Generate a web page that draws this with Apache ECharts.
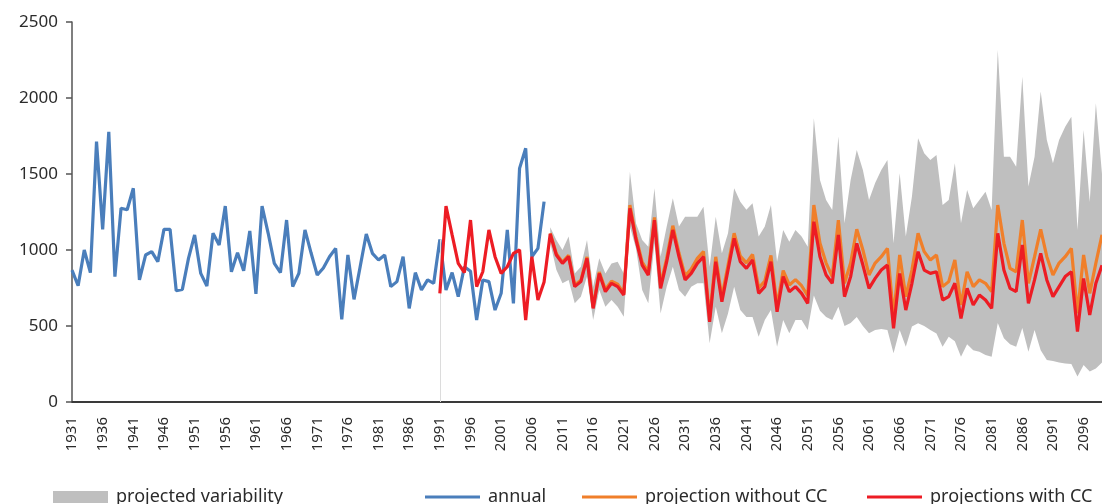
<!DOCTYPE html>
<html>
<head>
<meta charset="utf-8">
<script src="https://cdn.jsdelivr.net/npm/echarts@6/dist/echarts.min.js"></script>
<style>html,body{margin:0;padding:0;background:#fff}#c{width:1102px;height:504px}</style>
</head>
<body>
<div id="c"></div>
<script>
const firstYear = 1931, lastYear = 2099;
const annualStart = 1931, withCCStart = 1991, projStart = 2009;
const yTicks = [0, 500, 1000, 1500, 2000, 2500];

const annual = [
 868, 765, 1000, 851, 1713, 1136, 1778, 825, 1275, 1265,
 1406, 803, 967, 989, 923, 1136, 1136, 732, 741, 945,
 1099, 846, 763, 1110, 1033, 1289, 857, 982, 864, 1125,
 711, 1289, 1110, 912, 851, 1197, 760, 846, 1132, 980,
 835, 882, 956, 1011, 544, 967, 675, 890, 1105, 978,
 934, 967, 759, 792, 956, 616, 851, 737, 803, 781,
 1070, 737, 851, 693, 890, 860, 539, 803, 792, 605,
 715, 1132, 649, 1537, 1669, 956, 1011, 1318
];
const withCC = [
 715, 1289, 1099, 912, 851, 1197, 759, 857, 1132, 956,
 846, 890, 978, 1000, 539, 956, 671, 790, 1105, 967,
 912, 956, 759, 792, 945, 616, 846, 726, 781, 759,
 704, 1274, 1066, 901, 835, 1197, 748, 923, 1132, 956,
 803, 846, 912, 956, 528, 923, 660, 868, 1077, 923,
 879, 934, 715, 759, 923, 594, 825, 726, 759, 715,
 649, 1186, 956, 835, 781, 1099, 693, 825, 1044, 901,
 748, 813, 868, 901, 485, 846, 605, 781, 989, 868,
 846, 857, 671, 693, 781, 550, 748, 638, 704, 671,
 616, 1110, 868, 748, 726, 1033, 649, 803, 978, 803,
 693, 759, 825, 857, 463, 813, 572, 781, 900
];
const withoutCC = [
 1110, 975,
 920, 965, 770, 800, 955, 625, 855, 740, 795, 775,
 715, 1295, 1085, 920, 855, 1215, 770, 945, 1160, 980,
 830, 875, 945, 990, 555, 955, 690, 900, 1110, 960,
 915, 970, 750, 795, 965, 630, 865, 770, 805, 765,
 700, 1296, 1044, 914, 825, 1197, 781, 914, 1136, 1000,
 836, 914, 956, 1011, 561, 967, 693, 868, 1110, 989,
 934, 967, 759, 792, 934, 638, 857, 759, 803, 781,
 726, 1296, 1044, 879, 857, 1197, 781, 956, 1136, 956,
 836, 914, 956, 1011, 583, 967, 715, 914, 1100
];
const bandUpper = [
 1150, 1066,
 1000, 1088, 846, 890, 1066, 759, 945, 846, 912, 923,
 846, 1515, 1175, 1066, 1022, 1406, 956, 1154, 1340, 1154,
 1219, 1219, 1219, 1285, 890, 1219, 978, 1110, 1406, 1318,
 1264, 1307, 1088, 1154, 1296, 923, 1132, 1055, 1132, 1088,
 1022, 1867, 1461, 1329, 1263, 1746, 1176, 1461, 1658, 1526,
 1329, 1440, 1526, 1592, 1044, 1505, 1088, 1352, 1735, 1636,
 1592, 1625, 1296, 1329, 1570, 1176, 1395, 1274, 1329, 1384,
 1263, 2316, 1614, 1614, 1548, 2140, 1417, 1614, 2042, 1724,
 1570, 1724, 1811, 1877, 1132, 1790, 1316, 1965, 1500
];
const bandLower = [
 1050, 870,
 781, 803, 649, 693, 825, 539, 737, 627, 671, 627,
 561, 1154, 1009, 737, 649, 1044, 583, 759, 890, 737,
 693, 759, 781, 781, 386, 627, 452, 583, 759, 605,
 560, 560, 430, 539, 605, 364, 539, 452, 539, 539,
 474, 700, 600, 560, 540, 627, 500, 520, 560, 500,
 452, 474, 480, 474, 320, 474, 364, 496, 518, 500,
 474, 450, 364, 430, 400, 298, 380, 340, 330, 309,
 298, 520, 420, 380, 364, 487, 331, 474, 340, 276,
 270, 260, 254, 250, 167, 243, 200, 221, 260
];

const years = [];
for (let y = firstYear; y <= lastYear; y++) years.push(String(y));
function place(arr, start) {
  const out = years.map(() => null);
  arr.forEach((v, i) => { out[start - firstYear + i] = v; });
  return out;
}
const bandDiff = bandUpper.map((u, i) => u - bandLower[i]);

const textColor = '#2b2b2b';
const font = 'Noto Sans';
const legendBase = {
  top: 483, itemWidth: 55, itemGap: 0, icon: 'rect',
  textStyle: { fontSize: 18, color: textColor, fontFamily: font, padding: [0, 0, 0, 3] },
  selectedMode: false
};

const chart = echarts.init(document.getElementById('c'), null, { renderer: 'canvas' });
chart.setOption({
  animation: false,
  backgroundColor: '#ffffff',
  grid: { left: 72, right: 0, top: 22, bottom: 102, containLabel: false },
  legend: [
    Object.assign({}, legendBase, { left: 48, itemHeight: 12, data: ['projected variability'] }),
    Object.assign({}, legendBase, { left: 420, itemHeight: 3, data: ['annual'] }),
    Object.assign({}, legendBase, { left: 577, itemHeight: 3, data: ['projection without CC'] }),
    Object.assign({}, legendBase, { left: 862, itemHeight: 3, data: ['projections with CC'] })
  ],
  xAxis: {
    type: 'category', data: years, boundaryGap: false,
    axisLine: { show: true, lineStyle: { color: '#3a3a3a', width: 2 } },
    axisTick: { show: false },
    axisLabel: {
      interval: 4, rotate: 90, margin: 15,
      fontSize: 15, color: textColor, fontFamily: font
    },
    splitLine: { show: false }
  },
  yAxis: {
    type: 'value', min: yTicks[0], max: yTicks[yTicks.length - 1], interval: 500,
    axisLine: { show: true, lineStyle: { color: '#555', width: 1.5 } },
    axisTick: { show: true, length: 6, inside: false, lineStyle: { color: '#555', width: 1.5 } },
    axisLabel: { fontSize: 17, color: textColor, fontFamily: font, margin: 14,
      formatter: function (v) { return String(v); } },
    splitLine: { show: false }
  },
  series: [
    {
      name: 'band lower', type: 'line', stack: 'band', data: place(bandLower, projStart),
      symbol: 'none', lineStyle: { opacity: 0 }, silent: true, z: 1
    },
    {
      name: 'projected variability', type: 'line', stack: 'band', data: place(bandDiff, projStart),
      symbol: 'none', lineStyle: { opacity: 0 }, itemStyle: { color: '#bfbfbf' },
      areaStyle: { color: '#bfbfbf', opacity: 1 }, silent: true, z: 1
    },
    {
      name: 'annual', type: 'line', data: place(annual, annualStart),
      symbol: 'none', itemStyle: { color: '#4a7ebb' },
      lineStyle: { color: '#4a7ebb', width: 3.2 }, z: 3
    },
    {
      name: 'projection without CC', type: 'line', data: place(withoutCC, projStart),
      symbol: 'none', itemStyle: { color: '#f07f2a' },
      lineStyle: { color: '#f07f2a', width: 3.2 }, z: 4
    },
    {
      name: 'projections with CC', type: 'line', data: place(withCC, withCCStart),
      symbol: 'none', itemStyle: { color: '#ed1c24' },
      lineStyle: { color: '#ed1c24', width: 3.2 }, z: 5,
      markLine: {
        silent: true, symbol: 'none', label: { show: false },
        lineStyle: { color: '#dcdcdc', width: 1, type: 'solid' },
        data: [[{ coord: ['1991', 0] }, { coord: ['1991', 1070] }]]
      }
    }
  ]
});
</script>
</body>
</html>
